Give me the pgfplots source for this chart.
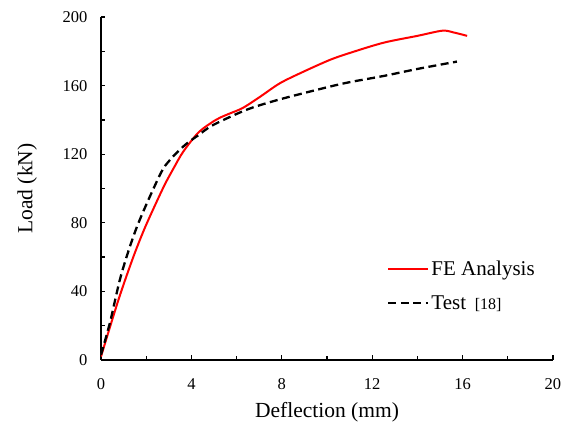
\documentclass[border=0pt]{standalone}
\usepackage{pgfplots}
\pgfplotsset{compat=1.18}
\usepackage{fontspec}
\setmainfont{Liberation Serif}
\begin{document}
\begin{tikzpicture}[x=1pt,y=1pt]
\useasboundingbox (-101pt,-68pt) rectangle (473pt,360pt);
\begin{axis}[
  at={(0pt,0pt)}, anchor=south west,
  scale only axis, width=452pt, height=343pt,
  xmin=0, xmax=20, ymin=0, ymax=200,
  axis x line*=bottom, axis y line*=left,
  axis line style={line width=1.5pt},
  xtick={0,4,...,20}, ytick={0,40,...,200},
  minor x tick num=1, minor y tick num=1,
  tick align=inside,
  major tick length=4.5pt, minor tick length=4pt,
  tick style={line width=1.3pt, black},
  /pgf/number format/assume math mode=true,
  ticklabel style={font=\fontsize{16.5}{18}\selectfont},
  xticklabel style={yshift=-15pt},
  yticklabel style={xshift=-10pt},
  xlabel={Deflection (mm)}, ylabel={Load (kN)},
  label style={font=\fontsize{21.5}{24}\selectfont},
  xlabel style={yshift=-6pt},
  ylabel style={yshift=19pt},
  legend style={draw=none, fill=none, at={(axis cs:12.52,60)}, anchor=north west,
    font=\fontsize{21}{24}\selectfont, row sep=14pt,
    /tikz/every even column/.append style={column sep=2pt}},
  legend cell align=left,
  legend image code/.code={\draw[#1] (0pt,0pt) -- (40pt,0pt);},
]
\addplot[red, line width=2pt, smooth] coordinates {
(0,2) (0.77,35) (1.4,59) (1.9,75.8) (2.4,90.5) (2.83,102.5) (3.2,111.5) (3.64,121.5)
(4.3,132.5) (4.9,138.5) (5.3,141.5) (5.71,143.8) (6.28,147) (7.04,153.5) (7.92,161.4)
(8.94,168) (10.13,175) (11,179) (12.5,185) (14,189) (15.1,192) (15.6,191) (16.2,189)};
\addlegendentry{FE Analysis}
\addplot[black, line width=2.3pt, dash pattern=on 8pt off 4.5pt, smooth] coordinates {
(0,3) (0.4,22) (0.9,50) (1.6,78) (2.61,108) (3.05,116.6) (3.72,125.4) (4.3,131)
(4.96,137) (6.46,146) (7.92,152) (10,159) (11,162) (12.5,165.6) (14,169.7) (15.75,174)};
\addlegendentry{Test\, {\fontsize{16}{18}\selectfont[18]}}
\end{axis}
\end{tikzpicture}
\end{document}
